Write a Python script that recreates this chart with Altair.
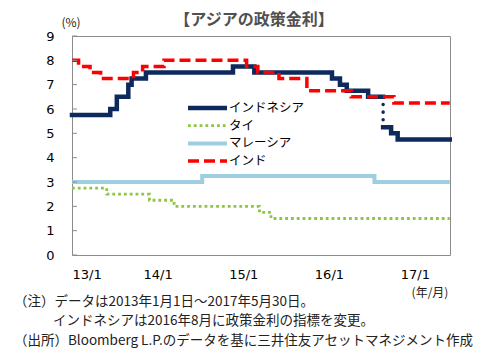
import altair as alt
import pandas as pd

# ---------------- data ----------------
indo_dates = ["2013-01-01", "2013-06-13", "2013-07-11", "2013-08-29", "2013-09-12",
              "2013-11-12", "2014-11-18", "2015-02-17", "2016-01-14", "2016-02-17",
              "2016-03-17", "2016-06-16", "2016-08-19"]
indo_vals = [5.75, 6.0, 6.5, 7.0, 7.25, 7.5, 7.75, 7.5, 7.25, 7.0, 6.75, 6.5, 6.5]

indo_new_dates = ["2016-08-19", "2016-09-22", "2016-10-20", "2017-05-30"]
indo_new_vals = [5.25, 5.0, 4.75, 4.75]

indo_link_dates = ["2016-08-19", "2016-08-19"]
indo_link_vals = [6.5, 5.25]

thai_dates = ["2013-01-01", "2013-05-29", "2013-11-27", "2014-03-12", "2015-03-11",
              "2015-04-29", "2017-05-30"]
thai_vals = [2.75, 2.5, 2.25, 2.0, 1.75, 1.5, 1.5]

malay_dates = ["2013-01-01", "2014-07-10", "2016-07-13", "2017-05-30"]
malay_vals = [3.0, 3.25, 3.0, 3.0]

india_dates = ["2013-01-01", "2013-01-29", "2013-03-19", "2013-05-03", "2013-09-20",
               "2013-10-29", "2014-01-28", "2015-01-15", "2015-03-04", "2015-06-02",
               "2015-09-29", "2016-04-05", "2016-10-04", "2017-05-30"]
india_vals = [8.0, 7.75, 7.5, 7.25, 7.5, 7.75, 8.0, 7.75, 7.5, 7.25, 6.75, 6.5, 6.25, 6.25]

series_names = ["インドネシア", "タイ", "マレーシア", "インド"]
y_ticks = list(range(10))
x_tick_years = [2013, 2014, 2015, 2016, 2017]

title_text = "【アジアの政策金利】"
unit_text = "(%)"
xunit_text = "(年/月)"
notes = [
    "（注）データは2013年1月1日～2017年5月30日。",
    "インドネシアは2016年8月に政策金利の指標を変更。",
    "（出所）Bloomberg L.P.のデータを基に三井住友アセットマネジメント作成",
]

# ---------------- styles ----------------
JP = "Noto Sans CJK JP"
NUM = "DejaVu Sans"
C_INDO = "#0e2a5c"
C_THAI = "#8cc63f"
C_MALAY = "#9dcfe0"
C_INDIA = "#ff0000"


def frame(dates, vals):
    return pd.DataFrame({"date": dates, "rate": vals})


x_enc = alt.X(
    "date:T",
    title=None,
    scale=alt.Scale(type="utc", domain=[alt.DateTime(year=2013, month=1, date=1, utc=True),
                                        alt.DateTime(year=2017, month=5, date=31, utc=True)]),
    axis=alt.Axis(
        values=[alt.DateTime(year=y, month=1, date=1, utc=True) for y in x_tick_years],
        labelExpr="utcFormat(datum.value, '%y') + '/1'",
        ticks=False, domain=False, grid=False,
        labelPadding=13, labelFont=NUM, labelFontSize=13, labelColor="#000",
    ),
)
y_enc = alt.Y(
    "rate:Q",
    title=None,
    scale=alt.Scale(domain=[0, 9], nice=False, zero=True),
    axis=alt.Axis(
        values=y_ticks, ticks=False, domain=False, grid=False,
        labelPadding=18, labelFont=NUM, labelFontSize=13, labelColor="#000",
    ),
)


def step_line(df, color, width, dash=None, cap="butt", interp="step-after"):
    kw = dict(color=color, strokeWidth=width, interpolate=interp, strokeCap=cap)
    if dash:
        kw["strokeDash"] = dash
    return alt.Chart(df).mark_line(**kw).encode(x=x_enc, y=y_enc)


THAI_DASH = [2.8, 3]
INDIA_DASH = [11, 5]

malay = step_line(frame(malay_dates, malay_vals), C_MALAY, 4)
thai = step_line(frame(thai_dates, thai_vals), C_THAI, 2.8, dash=THAI_DASH)
indo = step_line(frame(indo_dates, indo_vals), C_INDO, 4.5, cap="square")
indo_new = step_line(frame(indo_new_dates, indo_new_vals), C_INDO, 4.5, cap="square")
indo_link = step_line(frame(indo_link_dates, indo_link_vals), C_INDO, 3.5,
                      dash=[0.1, 7.5], cap="round", interp="linear")
india = step_line(frame(india_dates, india_vals), C_INDIA, 3.5, dash=INDIA_DASH)

ticks = alt.Chart(pd.DataFrame({"rate": y_ticks})).mark_rule(
    color="#8c8c8c", strokeWidth=1
).encode(y=y_enc, x=alt.value(0), x2=alt.value(5))

# ---------------- legend (manual) ----------------
leg_styles = [
    dict(color=C_INDO, strokeWidth=4.5, strokeCap="butt"),
    dict(color=C_THAI, strokeWidth=2.8, strokeDash=THAI_DASH),
    dict(color=C_MALAY, strokeWidth=4),
    dict(color=C_INDIA, strokeWidth=3.5, strokeDash=INDIA_DASH),
]
legend_layers = []
for i, (name, st) in enumerate(zip(series_names, leg_styles)):
    yy = 72 + 17.7 * i
    d = pd.DataFrame({"label": [name]})
    legend_layers.append(
        alt.Chart(d).mark_rule(**st).encode(x=alt.value(116), x2=alt.value(155), y=alt.value(yy))
    )
    legend_layers.append(
        alt.Chart(d).mark_text(align="left", baseline="middle", font=JP, fontSize=12.5,
                               color="#000").encode(x=alt.value(157), y=alt.value(yy), text="label:N")
    )


def label(text, x, y, size, align="left", weight="normal", color="#222", font=JP):
    return alt.Chart(pd.DataFrame({"t": [text]})).mark_text(
        align=align, baseline="alphabetic", font=font, fontSize=size,
        fontWeight=weight, color=color,
    ).encode(x=alt.value(x), y=alt.value(y), text="t:N")


texts = [
    label(title_text, 182, -11, 16, align="center", weight="bold", color="#505050"),
    label(unit_text, -1, -9, 12, align="center", color="#222"),
    label(xunit_text, 358, 261, 12, align="center", color="#222"),
    label(notes[0], -58, 270, 13.5),
    label(notes[1], -19, 289, 13.5),
    label(notes[2], -58, 309, 13.5),
]

chart = alt.layer(
    malay, thai, indo, indo_new, indo_link, india, ticks, *legend_layers, *texts
).properties(
    width=378, height=219,
    padding={"left": 72, "top": 36, "right": 37, "bottom": 99},
    autosize=alt.AutoSizeParams(type="none"),
    background="white",
).configure_view(stroke="#8c8c8c", strokeWidth=1)

chart.save("out.html", embed_options={"renderer": "svg", "actions": False})
